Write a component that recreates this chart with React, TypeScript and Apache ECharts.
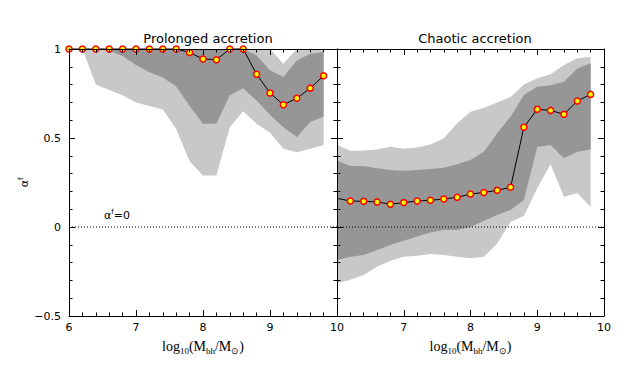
import React, { useEffect, useRef } from 'react';
import * as echarts from 'echarts';

// log10(Mbh/Msun) bin centres
const massBins = [6.0, 6.2, 6.4, 6.6, 6.8, 7.0, 7.2, 7.4, 7.6, 7.8, 8.0, 8.2, 8.4, 8.6, 8.8, 9.0, 9.2, 9.4, 9.6, 9.8];

// Prolonged accretion
const prolongedMedian = [1, 1, 1, 1, 1, 1, 1, 1, 1, 0.98, 0.944, 0.94, 1, 1, 0.858, 0.753, 0.687, 0.723, 0.78, 0.85];
const prolongedDarkLo = [1, 1, 1, 0.99, 0.96, 0.91, 0.87, 0.84, 0.79, 0.68, 0.58, 0.58, 0.74, 0.78, 0.71, 0.63, 0.56, 0.505, 0.59, 0.62];
const prolongedDarkHi = [1, 1, 1, 1, 1, 1, 1, 1, 1, 1, 1, 1, 1, 1, 0.964, 0.88, 0.843, 0.936, 0.974, 0.983];
const prolongedLightLo = [1, 1, 0.8, 0.77, 0.74, 0.7, 0.68, 0.66, 0.55, 0.37, 0.29, 0.29, 0.56, 0.65, 0.58, 0.53, 0.44, 0.42, 0.44, 0.46];
const prolongedLightHi = [1, 1, 1, 1, 1, 1, 1, 1, 1, 1, 1, 1, 1, 1, 1, 1, 0.917, 1, 1, 1];

// Chaotic accretion
const chaoticMedian = [0.161, 0.146, 0.144, 0.141, 0.128, 0.137, 0.146, 0.15, 0.157, 0.167, 0.185, 0.194, 0.206, 0.223, 0.56, 0.661, 0.655, 0.633, 0.708, 0.745];
const chaoticDarkLo = [-0.185, -0.167, -0.157, -0.129, -0.101, -0.077, -0.054, -0.031, -0.017, -0.017, 0.0, 0.035, 0.067, 0.096, 0.152, 0.45, 0.461, 0.386, 0.423, 0.436];
const chaoticDarkHi = [0.373, 0.343, 0.343, 0.33, 0.32, 0.316, 0.32, 0.326, 0.333, 0.352, 0.376, 0.423, 0.526, 0.62, 0.742, 0.788, 0.797, 0.816, 0.89, 0.92];
const chaoticLightLo = [-0.316, -0.297, -0.27, -0.223, -0.189, -0.167, -0.161, -0.152, -0.157, -0.167, -0.176, -0.167, -0.092, 0.03, 0.062, 0.217, 0.352, 0.17, 0.19, 0.114];
const chaoticLightHi = [0.461, 0.429, 0.43, 0.436, 0.451, 0.44, 0.447, 0.464, 0.498, 0.583, 0.648, 0.67, 0.7, 0.73, 0.8, 0.835, 0.858, 0.91, 0.948, 0.957];

const panelTitles = ['Prolonged accretion', 'Chaotic accretion'];
const xRange = [6, 10];
const yRange = [-0.5, 1];
const zeroLine = [0, 0];

const LIGHT = '#c8c8c8';
const DARK = '#969696';
const TICK_FONT = 'DejaVu Sans';

function bandSeries(idx: number, lo: number[], hi: number[], color: string, z: number) {
  return {
    type: 'custom',
    xAxisIndex: idx * 2,
    yAxisIndex: idx * 2,
    silent: true,
    z,
    data: massBins.map((x, i) => [x, lo[i], hi[i]]),
    encode: { x: 0, y: [1, 2] },
    renderItem: (params: any, api: any) => {
      if (params.dataIndex !== 0) return null;
      const pts: number[][] = [];
      for (let i = 0; i < massBins.length; i++) pts.push(api.coord([massBins[i], hi[i]]));
      for (let i = massBins.length - 1; i >= 0; i--) pts.push(api.coord([massBins[i], lo[i]]));
      return { type: 'polygon', shape: { points: pts }, style: { fill: color, stroke: null } };
    },
  };
}

function xAxis(grid: number, position: 'bottom' | 'top', showLabels: boolean, hideFirst: boolean) {
  return {
    type: 'value',
    gridIndex: grid,
    position,
    min: xRange[0],
    max: xRange[1],
    interval: 1,
    z: 10,
    axisLine: { show: true, onZero: false, lineStyle: { color: '#000', width: 1 } },
    axisTick: { show: true, inside: true, length: 6, lineStyle: { color: '#000', width: 1 } },
    minorTick: { show: true, splitNumber: 5, length: 3.5, lineStyle: { color: '#000', width: 1 } },
    splitLine: { show: false },
    axisLabel: {
      show: showLabels,
      margin: 6,
      color: '#000',
      fontFamily: TICK_FONT,
      fontSize: 11,
      formatter: (v: number) => (hideFirst && v === xRange[0] ? '' : String(v)),
    },
    name: showLabels ? '{n|log}{s|10}{n|(M}{s|bh}{n|/M}{s|\u2299}{n|)}' : '',
    nameLocation: 'middle',
    nameGap: 21,
    nameTextStyle: {
      rich: {
        n: { fontFamily: 'Liberation Serif', fontSize: 14, color: '#000', lineHeight: 19, verticalAlign: 'middle' },
        s: { fontFamily: 'Liberation Serif', fontSize: 9, color: '#000', lineHeight: 19, verticalAlign: 'bottom', padding: [0, 0, 1, 0] },
      },
    },
  };
}

function yAxis(grid: number, position: 'left' | 'right', showLabels: boolean) {
  return {
    type: 'value',
    gridIndex: grid,
    position,
    min: yRange[0],
    max: yRange[1],
    interval: 0.5,
    z: 10,
    axisLine: { show: true, onZero: false, lineStyle: { color: '#000', width: 1 } },
    axisTick: { show: true, inside: true, length: 6, lineStyle: { color: '#000', width: 1 } },
    minorTick: { show: true, splitNumber: 5, length: 3.5, lineStyle: { color: '#000', width: 1 } },
    splitLine: { show: false },
    axisLabel: {
      show: showLabels,
      margin: 8,
      color: '#000',
      fontFamily: TICK_FONT,
      fontSize: 11,
      formatter: (v: number) => (v < 0 ? '\u2212' + String(-v) : String(v)),
    },
    name: showLabels ? '{a|\u03b1}{f|f}' : '',
    nameLocation: 'middle',
    nameGap: 36,
    nameRotate: 90,
    nameTextStyle: {
      rich: {
        a: { fontFamily: 'DejaVu Sans', fontSize: 11, color: '#000', lineHeight: 14, verticalAlign: 'middle' },
        f: { fontFamily: 'DejaVu Sans', fontSize: 7, color: '#000', lineHeight: 14, verticalAlign: 'top' },
      },
    },
  };
}

function medianSeries(idx: number, values: number[], skipFirstMarker: boolean) {
  return {
    type: 'line',
    xAxisIndex: idx * 2,
    yAxisIndex: idx * 2,
    z: 5,
    clip: false,
    silent: true,
    symbol: 'circle',
    symbolSize: 6,
    itemStyle: { color: '#ffff00', borderColor: '#ff0000', borderWidth: 1.5 },
    lineStyle: { color: '#000', width: 1 },
    data: massBins.map((x, i) =>
      skipFirstMarker && i === 0 ? { value: [x, values[i]], symbolSize: 0 } : { value: [x, values[i]] }
    ),
  };
}

function zeroSeries(idx: number) {
  return {
    type: 'line',
    xAxisIndex: idx * 2,
    yAxisIndex: idx * 2,
    z: 3,
    silent: true,
    symbol: 'none',
    lineStyle: { color: '#000', width: 1, type: [1, 2] },
    data: xRange.map((x, i) => [x, zeroLine[i]]),
  };
}

export default function App() {
  const ref = useRef<HTMLDivElement>(null);
  useEffect(() => {
    if (!ref.current) return;
    const chart = echarts.init(ref.current, null, { renderer: 'svg' });
    chart.setOption({
      animation: false,
      backgroundColor: '#ffffff',
      title: [
        { text: panelTitles[0], left: 203, top: 27, textAlign: 'center', textStyle: { fontFamily: 'DejaVu Sans', fontSize: 13, fontWeight: 'normal', color: '#000' } },
        { text: panelTitles[1], left: 470, top: 27, textAlign: 'center', textStyle: { fontFamily: 'DejaVu Sans', fontSize: 13, fontWeight: 'normal', color: '#000' } },
      ],
      grid: [
        { left: 69, top: 49, width: 268, height: 267 },
        { left: 337, top: 49, width: 267, height: 267 },
      ],
      xAxis: [
        xAxis(0, 'bottom', true, false),
        xAxis(0, 'top', false, false),
        xAxis(1, 'bottom', true, true),
        xAxis(1, 'top', false, false),
      ],
      yAxis: [
        yAxis(0, 'left', true),
        yAxis(0, 'right', false),
        yAxis(1, 'left', false),
        yAxis(1, 'right', false),
      ],
      graphic: [
        {
          type: 'text',
          left: 104,
          top: 208,
          style: {
            text: '{a|\u03b1}{f|f}{a|=0}',
            rich: {
              a: { fontFamily: 'DejaVu Sans', fontSize: 11, fill: '#000', lineHeight: 14, verticalAlign: 'middle' },
              f: { fontFamily: 'DejaVu Sans', fontSize: 7, fill: '#000', lineHeight: 14, verticalAlign: 'top' },
            },
          },
        },
      ],
      series: [
        bandSeries(0, prolongedLightLo, prolongedLightHi, LIGHT, 1),
        bandSeries(0, prolongedDarkLo, prolongedDarkHi, DARK, 2),
        zeroSeries(0),
        medianSeries(0, prolongedMedian, false),
        bandSeries(1, chaoticLightLo, chaoticLightHi, LIGHT, 1),
        bandSeries(1, chaoticDarkLo, chaoticDarkHi, DARK, 2),
        zeroSeries(1),
        medianSeries(1, chaoticMedian, true),
      ],
    });
    return () => chart.dispose();
  }, []);
  return <div ref={ref} style={{ position: 'fixed', left: 0, top: 0, width: 638, height: 369 }} />;
}
